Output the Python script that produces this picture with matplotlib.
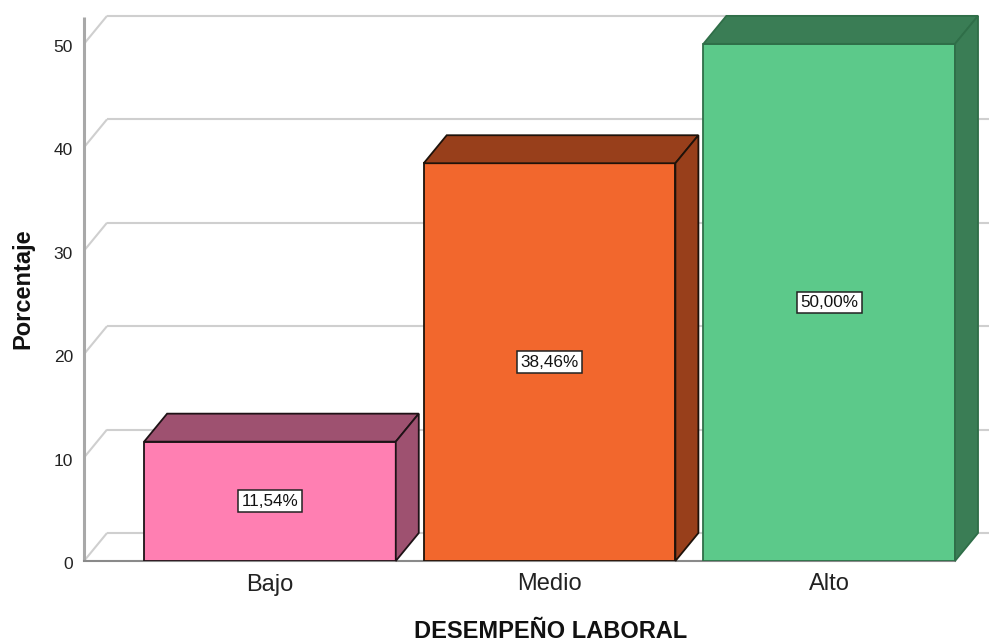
import matplotlib
matplotlib.use("Agg")
import matplotlib.pyplot as plt
import matplotlib.transforms as mtransforms
from matplotlib.patches import Polygon

# Data
categories = ["Bajo", "Medio", "Alto"]
percentages = [11.54, 38.46, 50.00]
value_labels = ["11,54%", "38,46%", "50,00%"]
y_ticks = [0, 10, 20, 30, 40, 50]

# Styling
front_colors = ["#FF7FB2", "#F2672D", "#5CC98A"]
shade_colors = ["#9E5170", "#983F1B", "#3A7D55"]
edge_colors = ["#1E1216", "#1E120A", "#2F6E48"]
grid_color = "#CFCFCF"

plt.rcParams["font.family"] = ["Liberation Sans", "DejaVu Sans"]

W, H = 989, 644
fig = plt.figure(figsize=(W / 100, H / 100), dpi=100)
ax = fig.add_axes([84 / W, 1 - 561 / H, (955 - 84) / W, (561 - 17) / H])

bar_width = 0.9
x0, x1 = -0.665, 2.45
y_top = 52.6
ax.set_xlim(x0, x1)
ax.set_ylim(0, y_top)
for s in ax.spines.values():
    s.set_visible(False)

# 3D depth offset (pixels) expressed in data units
fig.canvas.draw()
inv = ax.transData.inverted()
ox, oy = ax.transData.transform((0, 0))
px_x, px_y = inv.transform((ox + 23, oy + 28))
ddx, ddy = px_x - 0, px_y - 0
x_edge = inv.transform((W, oy))[0]

# Back wall gridlines with their diagonal connectors
for v in y_ticks:
    ax.plot([x0, x0 + ddx], [v, v + ddy], color=grid_color, lw=1.5,
            zorder=1, clip_on=False, solid_capstyle="butt")
    xe = x1 + ddx if v == y_ticks[-1] else x_edge
    ax.plot([x0 + ddx, xe], [v + ddy, v + ddy], color=grid_color, lw=1.5,
            zorder=1, clip_on=False, solid_capstyle="butt")
ax.plot([x1 + ddx, x1 + ddx], [ddy, y_ticks[-1] + ddy], color=grid_color,
        lw=1.2, zorder=1, clip_on=False)

# Front axes lines
ax.plot([x0, x0], [0, y_top], color="#A8A8A8", lw=2.2, zorder=2,
        clip_on=False, solid_capstyle="butt")
ax.plot([x0, x1], [0, 0], color="#8A8A8A", lw=1.5, zorder=2, clip_on=False)

# Bars: front faces
xs = list(range(len(categories)))
ax.bar(xs, percentages, width=bar_width, color=front_colors,
       edgecolor=edge_colors, linewidth=1.3, zorder=3)

# Bars: top and side faces
for i, v in enumerate(percentages):
    left, right = i - bar_width / 2, i + bar_width / 2
    top = Polygon([(left, v), (left + ddx, v + ddy), (right + ddx, v + ddy),
                   (right, v)], closed=True, fc=shade_colors[i],
                  ec=edge_colors[i], lw=1.3, zorder=3, clip_on=False)
    side = Polygon([(right, 0), (right, v), (right + ddx, v + ddy),
                    (right + ddx, ddy)], closed=True, fc=shade_colors[i],
                   ec=edge_colors[i], lw=1.3, zorder=3, clip_on=False)
    ax.add_patch(top)
    ax.add_patch(side)
    ax.text(i, v / 2, value_labels[i], ha="center", va="center",
            fontsize=12.3, color="#111111", zorder=5,
            bbox=dict(boxstyle="square,pad=0.2", fc="white", ec="#222222",
                      lw=1.1))

# Ticks
ax.set_xticks(xs)
ax.set_xticklabels(categories, fontsize=17, color="#222222")
ax.set_yticks(y_ticks)
ax.set_yticklabels([str(t) for t in y_ticks], fontsize=12.5, color="#222222",
                   va="center")
ax.tick_params(axis="x", length=0, pad=9)
ax.tick_params(axis="y", length=0, pad=8)
# y tick labels sit slightly below their gridline level
shift = mtransforms.ScaledTranslation(0, -0.035, fig.dpi_scale_trans)
for lbl in ax.get_yticklabels():
    lbl.set_transform(lbl.get_transform() + shift)

# Axis titles
fig.text(23 / W, 1 - 289 / H, "Porcentaje", rotation=90, ha="center",
         va="center", fontsize=17, fontweight="bold", color="#111111")
fig.text(551 / W, 1 - 632 / H, "DESEMPEÑO LABORAL", ha="center",
         va="center", fontsize=17, fontweight="bold", color="#111111")

fig.savefig("out.png", dpi=100)
